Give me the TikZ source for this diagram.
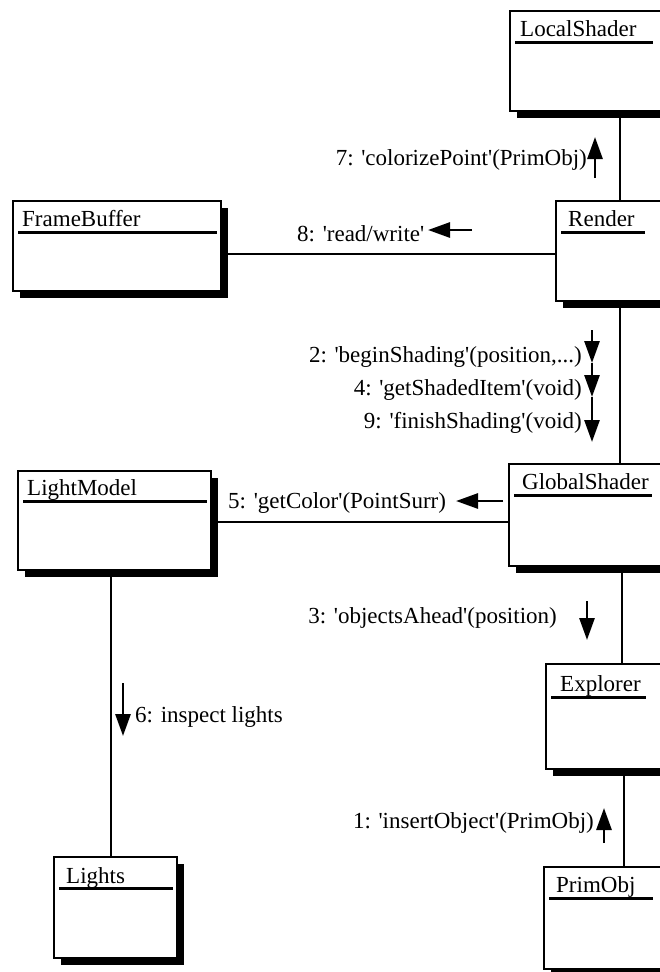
\documentclass[tikz,border=0pt]{standalone}
\usepackage{fontspec}
\setmainfont{Liberation Serif}[Ligatures=TeXOff]
\usetikzlibrary{arrows.meta,shadows,backgrounds}
\begin{document}
\begin{tikzpicture}[x=1pt,y=-1pt,
  cls/.style={draw=black, line width=2pt, fill=white, rectangle, inner sep=0pt,
    anchor=north west,
    drop shadow={shadow xshift=7pt, shadow yshift=-7pt, fill=black, opacity=1}},
  ctitle/.style={anchor=base west, inner sep=0pt, font=\fontsize{23}{27}\selectfont},
  hdr/.style={line width=3pt},
  conn/.style={line width=2.2pt},
  msg/.style={line width=2.8pt, -{Triangle[width=15pt,length=22pt]}},
  mlabel/.style={inner sep=0pt, font=\fontsize{23}{27}\selectfont}]
\useasboundingbox (0,0) rectangle (660,972);
\clip (0,0) rectangle (660,972);

% classes
\node[cls, minimum width=191pt, minimum height=100pt] (localshader) at (509,10) {};
\node[ctitle] (localshader-t) at (520,36) {LocalShader};
\draw[hdr] (515,42) -- (653,42);

\node[cls, minimum width=208pt, minimum height=90pt] (framebuffer) at (12,200) {};
\node[ctitle] (framebuffer-t) at (22,226) {FrameBuffer};
\draw[hdr] (18,232) -- (217,232);

\node[cls, minimum width=145pt, minimum height=100pt] (render) at (555,200) {};
\node[ctitle] (render-t) at (568,226) {Render};
\draw[hdr] (561,232) -- (645,232);

\node[cls, minimum width=193pt, minimum height=99pt] (lightmodel) at (17,470) {};
\node[ctitle] (lightmodel-t) at (27,495) {LightModel};
\draw[hdr] (23,501) -- (207,501);

\node[cls, minimum width=192pt, minimum height=102pt] (globalshader) at (508,463) {};
\node[ctitle] (globalshader-t) at (522,489) {GlobalShader};
\draw[hdr] (514,495) -- (652,495);

\node[cls, minimum width=155pt, minimum height=105pt] (explorer) at (545,663) {};
\node[ctitle] (explorer-t) at (560,691) {Explorer};
\draw[hdr] (551,697) -- (646,697);

\node[cls, minimum width=123pt, minimum height=101pt] (lights) at (53,856) {};
\node[ctitle] (lights-t) at (66,883) {Lights};
\draw[hdr] (59,888) -- (173,888);

\node[cls, minimum width=157pt, minimum height=102pt] (primobj) at (543,866) {};
\node[ctitle] (primobj-t) at (556,892) {PrimObj};
\draw[hdr] (549,898) -- (653,898);

% connectors
\coordinate (xa) at (620,0);
\coordinate (xb) at (622,0);
\coordinate (xc) at (624,0);
\coordinate (xd) at (111,0);
\coordinate (ya) at (0,254);
\coordinate (yb) at (0,522);
\begin{scope}[on background layer]
\fill[white] (0,0) rectangle (660,972);
\draw[conn] (localshader.south -| xa) -- (render.north -| xa);
\draw[conn] (render.south -| xa) -- (globalshader.north -| xa);
\draw[conn] (globalshader.south -| xb) -- (explorer.north -| xb);
\draw[conn] (explorer.south -| xc) -- (primobj.north -| xc);
\draw[conn] (framebuffer.east |- ya) -- (render.west |- ya);
\draw[conn] (lightmodel.east |- yb) -- (globalshader.west |- yb);
\draw[conn] (lightmodel.south -| xd) -- (lights.north -| xd);
\end{scope}

% messages
\coordinate (m7a) at (595,178); \coordinate (m7b) at (595,137);
\draw[msg] (m7a) -- (m7b);
\node[mlabel, anchor=base east] (l7) at (587,165) {7: 'colorizePoint'(PrimObj)};

\coordinate (m8a) at (472,230); \coordinate (m8b) at (428,230);
\draw[msg] (m8a) -- (m8b);
\node[mlabel, anchor=base west] (l8) at (297,241) {8: 'read/write'};

\coordinate (m2a) at (592,330); \coordinate (m2b) at (592,363);
\coordinate (m4b) at (592,397); \coordinate (m9b) at (592,442);
\draw[msg] (m2a) -- (m2b);
\draw[msg] (m2b) -- (m4b);
\draw[msg] (m4b) -- (m9b);
\node[mlabel, anchor=base east] (l2) at (582,362) {2: 'beginShading'(position,...)};
\node[mlabel, anchor=base east] (l4) at (582,395) {4: 'getShadedItem'(void)};
\node[mlabel, anchor=base east] (l9) at (582,428) {9: 'finishShading'(void)};

\coordinate (m5a) at (503,501); \coordinate (m5b) at (456,501);
\draw[msg] (m5a) -- (m5b);
\node[mlabel, anchor=base west] (l5) at (228,508) {5: 'getColor'(PointSurr)};

\coordinate (m3a) at (587,601); \coordinate (m3b) at (587,640);
\draw[msg] (m3a) -- (m3b);
\node[mlabel, anchor=base east] (l3) at (557,623) {3: 'objectsAhead'(position)};

\coordinate (m6a) at (123,683); \coordinate (m6b) at (123,736);
\draw[msg] (m6a) -- (m6b);
\node[mlabel, anchor=base west] (l6) at (135,722) {6: inspect lights};

\coordinate (m1a) at (604,843); \coordinate (m1b) at (604,808);
\draw[msg] (m1a) -- (m1b);
\node[mlabel, anchor=base east] (l1) at (594,828) {1: 'insertObject'(PrimObj)};
\end{tikzpicture}
\end{document}
